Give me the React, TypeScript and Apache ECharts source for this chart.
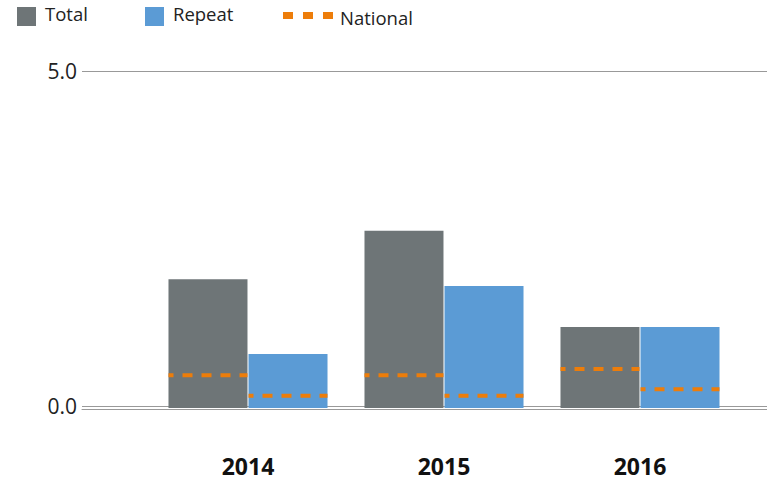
import React, { useEffect, useRef } from "react";
import * as echarts from "echarts";

const years = ["2014", "2015", "2016"];
const totalValues = [1.91, 2.63, 1.2];
const repeatValues = [0.8, 1.81, 1.2];
const nationalTotal = [0.485, 0.485, 0.58];
const nationalRepeat = [0.18, 0.18, 0.28];
const yTicks = [0, 5];

const GRAY = "#6E7577";
const BLUE = "#5B9BD5";
const ORANGE = "#ED7D0A";
const FONT = "'Open Sans', sans-serif";
const BAR_W = 79;

function makeNational(name: string, values: number[], offset: number) {
  return {
    name,
    type: "custom",
    xAxisIndex: 0,
    yAxisIndex: 0,
    z: 5,
    data: values.map((v, i) => [i, v]),
    renderItem: (params: any, api: any) => {
      const p = api.coord([api.value(0), api.value(1)]);
      const cx = p[0] + offset;
      return {
        type: "line",
        shape: { x1: cx - BAR_W / 2, y1: p[1], x2: cx + BAR_W / 2, y2: p[1] },
        style: { stroke: ORANGE, lineWidth: 4, lineDash: [10, 9], lineDashOffset: 5 },
      };
    },
  };
}

export default function App() {
  const ref = useRef<HTMLDivElement>(null);
  useEffect(() => {
    if (!ref.current) return;
    const chart = echarts.init(ref.current, null, { renderer: "svg" });
    chart.setOption({
      animation: false,
      backgroundColor: "#fff",
      textStyle: { fontFamily: FONT },
      grid: [
        { left: 150, right: 29, top: 71, bottom: 74 },
        { left: 82, right: 0, top: 71, bottom: 76 },
        { left: 82, right: 0, top: 71, bottom: 73 },
      ],
      xAxis: [
        {
          type: "category",
          gridIndex: 0,
          data: years,
          axisLine: { show: false },
          axisTick: { show: false },
          axisLabel: { fontSize: 23, fontWeight: "bold", color: "#111", margin: 46, fontFamily: FONT },
        },
        { type: "value", gridIndex: 1, show: false },
        {
          type: "value",
          gridIndex: 2,
          axisLine: { show: true, lineStyle: { color: "#999", width: 1 } },
          axisTick: { show: false },
          axisLabel: { show: false },
          splitLine: { show: false },
        },
      ],
      yAxis: [
        { type: "value", gridIndex: 0, min: 0, max: 5, show: false },
        {
          type: "value",
          gridIndex: 1,
          min: 0,
          max: 5,
          interval: 5,
          axisLine: { show: false },
          axisTick: { show: false },
          axisLabel: {
            fontSize: 21,
            color: "#222",
            margin: 5,
            fontFamily: FONT,
            formatter: (v: number) => (yTicks.includes(v) ? v.toFixed(1) : ""),
          },
          splitLine: { lineStyle: { color: "#999", width: 1 } },
        },
        { type: "value", gridIndex: 2, show: false, min: 0, max: 5 },
      ],
      series: [
        {
          name: "Total",
          type: "bar",
          xAxisIndex: 0,
          yAxisIndex: 0,
          data: totalValues,
          barWidth: BAR_W,
          barGap: "1.3%",
          itemStyle: { color: GRAY },
        },
        {
          name: "Repeat",
          type: "bar",
          xAxisIndex: 0,
          yAxisIndex: 0,
          data: repeatValues,
          barWidth: BAR_W,
          barGap: "1.3%",
          itemStyle: { color: BLUE },
        },
        makeNational("National", nationalTotal, -40),
        makeNational("National repeat", nationalRepeat, 40),
      ],
      graphic: [
        { type: "rect", left: 17, top: 7, shape: { width: 19, height: 19 }, style: { fill: GRAY } },
        {
          type: "text",
          left: 45,
          top: 4,
          style: { text: "Total", fontSize: 18.5, fill: "#222", fontFamily: FONT },
        },
        { type: "rect", left: 145, top: 7, shape: { width: 19, height: 19 }, style: { fill: BLUE } },
        {
          type: "text",
          left: 173,
          top: 4,
          style: { text: "Repeat", fontSize: 18.5, fill: "#222", fontFamily: FONT },
        },
        { type: "rect", left: 283, top: 12, shape: { width: 10, height: 7 }, style: { fill: ORANGE } },
        { type: "rect", left: 303, top: 12, shape: { width: 10, height: 7 }, style: { fill: ORANGE } },
        { type: "rect", left: 323, top: 12, shape: { width: 10, height: 7 }, style: { fill: ORANGE } },
        {
          type: "text",
          left: 340,
          top: 8,
          style: { text: "National", fontSize: 18.5, fill: "#222", fontFamily: FONT },
        },
      ],
    });
    return () => chart.dispose();
  }, []);
  return <div ref={ref} style={{ width: 767, height: 482, position: "absolute", left: 0, top: 0 }} />;
}
